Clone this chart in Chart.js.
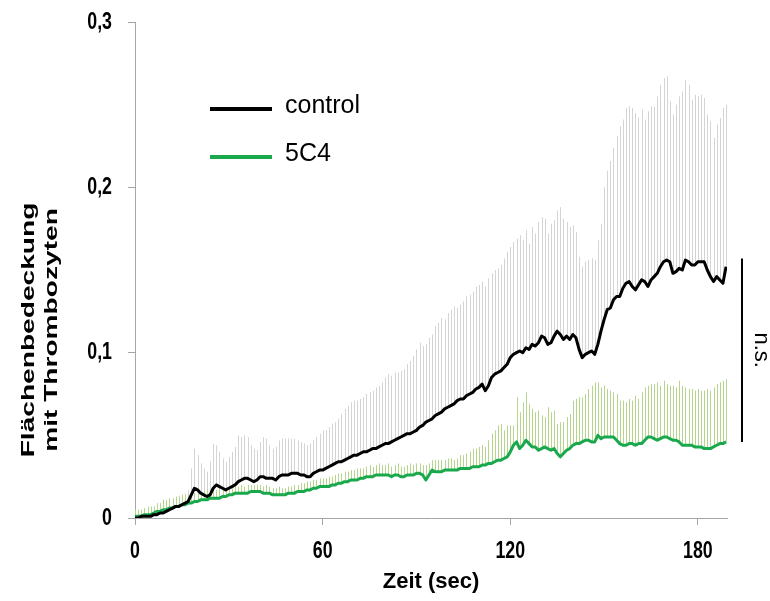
<!DOCTYPE html>
<html>
<head>
<meta charset="utf-8">
<title>Flächenbedeckung mit Thrombozyten</title>
<script src="https://cdn.jsdelivr.net/npm/chart.js@4/dist/chart.umd.min.js"></script>
<style>
  html, body { margin: 0; padding: 0; background: #fff; }
  #wrap { width: 770px; height: 601px; }
</style>
</head>
<body>
<div id="wrap"><canvas id="c" width="770" height="601"></canvas></div>
<script>
// time axis (one sample per second)
const seconds = Array.from({ length: 190 }, (_, i) => i);
const xTicks = [0, 60, 120, 180];
const yTicks = [0, 0.1, 0.2, 0.3];
const seriesNames = ['control', '5C4'];

// mean platelet surface coverage, control
const controlMean = [
  0.000,0.000,0.001,0.001,0.001,0.001,0.002,0.002,0.003,0.003,
  0.004,0.005,0.006,0.007,0.007,0.008,0.009,0.010,0.014,0.018,
  0.017,0.015,0.014,0.013,0.014,0.018,0.020,0.019,0.018,0.017,
  0.018,0.019,0.020,0.022,0.023,0.024,0.024,0.023,0.022,0.023,
  0.025,0.025,0.024,0.024,0.024,0.023,0.025,0.026,0.026,0.026,
  0.027,0.027,0.027,0.026,0.026,0.025,0.025,0.027,0.028,0.029,
  0.029,0.030,0.031,0.032,0.033,0.034,0.034,0.035,0.036,0.037,
  0.038,0.038,0.039,0.040,0.040,0.041,0.042,0.042,0.043,0.044,
  0.045,0.045,0.046,0.047,0.048,0.049,0.050,0.051,0.051,0.052,
  0.053,0.055,0.056,0.058,0.059,0.060,0.062,0.063,0.064,0.066,
  0.067,0.068,0.069,0.071,0.072,0.072,0.074,0.075,0.076,0.078,
  0.079,0.081,0.077,0.080,0.085,0.087,0.088,0.089,0.091,0.093,
  0.097,0.099,0.100,0.101,0.100,0.103,0.102,0.105,0.104,0.106,
  0.110,0.109,0.105,0.106,0.110,0.113,0.111,0.108,0.110,0.108,
  0.111,0.109,0.102,0.097,0.099,0.100,0.101,0.099,0.105,0.113,
  0.120,0.126,0.127,0.132,0.134,0.134,0.139,0.142,0.143,0.140,
  0.138,0.141,0.144,0.143,0.140,0.144,0.146,0.148,0.152,0.155,
  0.156,0.155,0.148,0.149,0.151,0.150,0.156,0.155,0.153,0.153,
  0.155,0.155,0.155,0.150,0.146,0.143,0.146,0.144,0.142,0.152
];

// standard error, control
const controlSem = [
  0.001,0.002,0.002,0.002,0.002,0.003,0.003,0.003,0.004,0.004,
  0.004,0.005,0.005,0.005,0.006,0.006,0.006,0.007,0.016,0.024,
  0.021,0.018,0.016,0.015,0.020,0.027,0.024,0.021,0.018,0.017,
  0.019,0.021,0.023,0.028,0.026,0.026,0.025,0.021,0.020,0.018,
  0.021,0.024,0.024,0.020,0.018,0.020,0.022,0.022,0.022,0.022,
  0.021,0.021,0.020,0.020,0.019,0.019,0.020,0.020,0.021,0.022,
  0.024,0.023,0.024,0.025,0.025,0.026,0.029,0.031,0.032,0.033,
  0.033,0.033,0.033,0.033,0.035,0.035,0.035,0.037,0.037,0.038,
  0.040,0.042,0.040,0.041,0.040,0.040,0.040,0.042,0.044,0.046,
  0.049,0.051,0.048,0.047,0.050,0.051,0.054,0.055,0.057,0.054,
  0.057,0.058,0.059,0.056,0.057,0.059,0.060,0.060,0.061,0.062,
  0.062,0.062,0.063,0.065,0.063,0.063,0.063,0.064,0.066,0.068,
  0.067,0.068,0.069,0.070,0.068,0.071,0.064,0.071,0.068,0.073,
  0.072,0.072,0.067,0.072,0.070,0.073,0.077,0.073,0.069,0.068,
  0.066,0.064,0.056,0.055,0.056,0.056,0.056,0.057,0.063,0.065,
  0.080,0.084,0.089,0.092,0.097,0.103,0.102,0.106,0.106,0.108,
  0.107,0.101,0.103,0.098,0.106,0.105,0.103,0.107,0.110,0.111,
  0.111,0.097,0.096,0.101,0.104,0.108,0.109,0.107,0.100,0.103,
  0.100,0.101,0.099,0.094,0.094,0.087,0.092,0.098,0.106,0.098
];

// mean platelet surface coverage, 5C4
const mabMean = [
  0.001,0.001,0.001,0.002,0.002,0.002,0.003,0.004,0.004,0.005,
  0.005,0.006,0.006,0.007,0.007,0.008,0.008,0.009,0.009,0.010,
  0.010,0.011,0.011,0.011,0.012,0.012,0.012,0.012,0.013,0.013,
  0.014,0.014,0.015,0.015,0.015,0.015,0.015,0.016,0.016,0.016,
  0.016,0.015,0.015,0.015,0.014,0.014,0.014,0.014,0.014,0.015,
  0.015,0.015,0.016,0.016,0.016,0.017,0.017,0.018,0.018,0.019,
  0.019,0.019,0.019,0.020,0.020,0.021,0.021,0.022,0.022,0.023,
  0.023,0.023,0.024,0.024,0.025,0.025,0.025,0.026,0.026,0.026,
  0.026,0.026,0.025,0.026,0.026,0.025,0.025,0.026,0.026,0.026,
  0.027,0.027,0.026,0.023,0.026,0.029,0.028,0.028,0.028,0.029,
  0.029,0.029,0.029,0.029,0.030,0.030,0.030,0.030,0.031,0.031,
  0.031,0.032,0.032,0.033,0.033,0.034,0.035,0.035,0.036,0.037,
  0.040,0.044,0.046,0.042,0.044,0.047,0.045,0.043,0.043,0.041,
  0.042,0.043,0.042,0.041,0.042,0.039,0.037,0.039,0.041,0.042,
  0.044,0.045,0.045,0.046,0.047,0.047,0.046,0.046,0.050,0.048,
  0.049,0.049,0.049,0.049,0.047,0.045,0.044,0.044,0.045,0.045,
  0.044,0.045,0.045,0.047,0.049,0.049,0.048,0.047,0.048,0.049,
  0.049,0.048,0.047,0.047,0.046,0.044,0.044,0.044,0.044,0.043,
  0.043,0.043,0.042,0.042,0.042,0.043,0.044,0.045,0.045,0.046
];

// standard error, 5C4
const mabSem = [
  0.004,0.004,0.004,0.004,0.005,0.005,0.004,0.005,0.005,0.006,
  0.006,0.006,0.006,0.006,0.006,0.006,0.006,0.005,0.005,0.005,
  0.005,0.005,0.005,0.006,0.005,0.005,0.005,0.006,0.005,0.005,
  0.005,0.004,0.004,0.004,0.005,0.004,0.005,0.004,0.004,0.004,
  0.004,0.004,0.005,0.004,0.004,0.004,0.005,0.004,0.004,0.004,
  0.004,0.005,0.004,0.005,0.005,0.005,0.005,0.005,0.005,0.005,
  0.005,0.005,0.006,0.005,0.006,0.006,0.006,0.006,0.006,0.006,
  0.006,0.007,0.006,0.006,0.006,0.007,0.006,0.006,0.007,0.006,
  0.006,0.007,0.006,0.006,0.007,0.006,0.006,0.006,0.007,0.006,
  0.006,0.006,0.006,0.009,0.007,0.006,0.007,0.007,0.007,0.006,
  0.007,0.007,0.006,0.007,0.008,0.008,0.009,0.010,0.011,0.011,
  0.012,0.012,0.011,0.014,0.018,0.019,0.021,0.022,0.017,0.019,
  0.016,0.012,0.027,0.022,0.026,0.029,0.024,0.023,0.021,0.024,
  0.020,0.018,0.025,0.023,0.023,0.018,0.021,0.019,0.020,0.021,
  0.027,0.027,0.028,0.027,0.028,0.031,0.034,0.036,0.032,0.031,
  0.031,0.029,0.028,0.027,0.028,0.026,0.027,0.026,0.027,0.026,
  0.030,0.027,0.031,0.032,0.031,0.032,0.033,0.035,0.032,0.034,
  0.032,0.032,0.033,0.032,0.037,0.036,0.035,0.034,0.034,0.034,
  0.035,0.034,0.035,0.036,0.035,0.036,0.037,0.037,0.038,0.038
];

// significance bracket spans these two coverage levels
const bracketRange = [0.157, 0.046];

const COLORS = {
  control: '#000000',
  mab: '#19a84c',
  controlBar: '#d4d4d4',
  mabBar: '#b5d58c',
  axis: '#a6a6a6'
};

const sansFont = "'Liberation Sans', Arial, Helvetica, sans-serif";

function fmtTick(v) {
  if (Math.abs(v) < 1e-9) return '0';
  return (Math.round(v * 10) / 10).toFixed(1).replace('.', ',');
}

// upward SEM whiskers behind the mean lines
const semWhiskers = {
  id: 'semWhiskers',
  beforeDatasetsDraw(chart) {
    const { ctx, chartArea, scales } = chart;
    const xs = scales.x, ys = scales.y;
    const sets = [
      { mean: controlMean, sem: controlSem, color: COLORS.controlBar },
      { mean: mabMean, sem: mabSem, color: COLORS.mabBar }
    ];
    ctx.save();
    ctx.beginPath();
    ctx.rect(chartArea.left, chartArea.top - 1, chartArea.right - chartArea.left, chartArea.bottom - chartArea.top + 1);
    ctx.clip();
    ctx.lineWidth = 1;
    sets.forEach(s => {
      ctx.strokeStyle = s.color;
      ctx.beginPath();
      seconds.forEach((t, i) => {
        const px = Math.round(xs.getPixelForValue(t)) + 0.5;
        ctx.moveTo(px, ys.getPixelForValue(s.mean[i]));
        ctx.lineTo(px, ys.getPixelForValue(s.mean[i] + s.sem[i]));
      });
      ctx.stroke();
    });
    ctx.restore();
  }
};

// condensed bold tick labels, placed through the scales
const tickLabels = {
  id: 'tickLabels',
  afterDraw(chart) {
    const { ctx, scales, chartArea } = chart;
    ctx.save();
    ctx.fillStyle = '#000';
    ctx.font = 'bold 24px ' + sansFont;
    const squeeze = 0.74;

    ctx.textAlign = 'center';
    ctx.textBaseline = 'middle';
    scales.x.ticks.forEach(t => {
      const px = scales.x.getPixelForValue(t.value);
      ctx.save();
      ctx.translate(px, chartArea.bottom + 33);
      ctx.scale(squeeze, 1);
      ctx.fillText(String(t.value), 0, 0);
      ctx.restore();
    });

    ctx.textAlign = 'right';
    scales.y.ticks.forEach(t => {
      const py = scales.y.getPixelForValue(t.value);
      ctx.save();
      ctx.translate(chartArea.left - 23, py);
      ctx.scale(squeeze, 1);
      ctx.fillText(fmtTick(t.value), 0, 0);
      ctx.restore();
    });
    ctx.restore();
  }
};

// legend, axis titles and significance note
const annotations = {
  id: 'annotations',
  afterDraw(chart) {
    const { ctx, scales } = chart;
    const ys = scales.y;
    ctx.save();

    // legend
    const legendRows = [
      { label: seriesNames[0], color: COLORS.control, y: 109 },
      { label: seriesNames[1], color: COLORS.mab, y: 157 }
    ];
    legendRows.forEach(r => {
      ctx.strokeStyle = r.color;
      ctx.lineWidth = 4;
      ctx.beginPath();
      ctx.moveTo(210, r.y);
      ctx.lineTo(272, r.y);
      ctx.stroke();
      ctx.fillStyle = '#000';
      ctx.font = '25px ' + sansFont;
      ctx.textAlign = 'left';
      ctx.textBaseline = 'middle';
      ctx.fillText(r.label, 285, r.y - 3);
    });

    // y axis title (two lines, rotated)
    ctx.fillStyle = '#000';
    ctx.font = 'bold 19px ' + sansFont;
    ctx.textAlign = 'center';
    ctx.textBaseline = 'middle';
    [['Flächenbedeckung', 29], ['mit Thrombozyten', 52]].forEach(([txt, cx]) => {
      ctx.save();
      ctx.translate(cx, 330);
      ctx.rotate(-Math.PI / 2);
      ctx.scale(1.48, 1);
      ctx.fillText(txt, 0, 0);
      ctx.restore();
    });

    // x axis title
    ctx.font = 'bold 22px ' + sansFont;
    ctx.fillText('Zeit (sec)', 431, 582);

    // n.s. bracket
    const yTop = ys.getPixelForValue(bracketRange[0]);
    const yBot = ys.getPixelForValue(bracketRange[1]);
    ctx.strokeStyle = '#000';
    ctx.lineWidth = 2;
    ctx.beginPath();
    ctx.moveTo(742, yTop);
    ctx.lineTo(742, yBot);
    ctx.stroke();
    ctx.save();
    ctx.translate(761, (yTop + yBot) / 2);
    ctx.rotate(Math.PI / 2);
    ctx.font = '22px ' + sansFont;
    ctx.textAlign = 'center';
    ctx.textBaseline = 'middle';
    ctx.fillText('n.s.', 0, 0);
    ctx.restore();

    ctx.restore();
  }
};

const ctx = document.getElementById('c').getContext('2d');
new Chart(ctx, {
  type: 'line',
  data: {
    datasets: [
      {
        label: seriesNames[0],
        data: seconds.map((t, i) => ({ x: t, y: controlMean[i] })),
        borderColor: COLORS.control,
        borderWidth: 3,
        pointRadius: 0,
        tension: 0,
        borderJoinStyle: 'round',
        fill: false
      },
      {
        label: seriesNames[1],
        data: seconds.map((t, i) => ({ x: t, y: mabMean[i] })),
        borderColor: COLORS.mab,
        borderWidth: 3,
        pointRadius: 0,
        tension: 0,
        borderJoinStyle: 'round',
        fill: false
      }
    ]
  },
  options: {
    responsive: false,
    animation: false,
    devicePixelRatio: 1,
    layout: { padding: { left: 0, right: 43, top: 22, bottom: 0 } },
    plugins: {
      legend: { display: false },
      tooltip: { enabled: false }
    },
    scales: {
      x: {
        type: 'linear',
        min: 0,
        max: 189.3,
        afterFit(scale) { scale.height = 83; },
        afterBuildTicks(scale) { scale.ticks = xTicks.map(v => ({ value: v })); },
        border: { display: true, color: COLORS.axis, width: 1 },
        grid: { display: true, drawOnChartArea: false, drawTicks: true, tickLength: 7, color: COLORS.axis, lineWidth: 1 },
        ticks: { display: false }
      },
      y: {
        min: 0,
        max: 0.3,
        afterFit(scale) { scale.width = 135; },
        afterBuildTicks(scale) { scale.ticks = yTicks.map(v => ({ value: v })); },
        border: { display: true, color: COLORS.axis, width: 1 },
        grid: { display: true, drawOnChartArea: false, drawTicks: true, tickLength: 7, color: COLORS.axis, lineWidth: 1 },
        ticks: { display: false }
      }
    }
  },
  plugins: [semWhiskers, tickLabels, annotations]
});
</script>
</body>
</html>
